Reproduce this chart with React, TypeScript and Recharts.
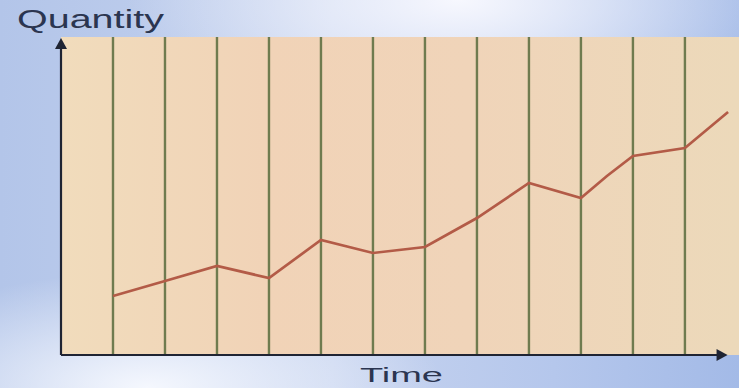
import { LineChart, Line, XAxis, YAxis, CartesianGrid, ReferenceLine, ReferenceDot } from 'recharts';

// time positions of the readings and the quantity measured at each
const periods = [1, 2, 3, 4, 5, 6, 7, 8, 9, 10, 10.5, 11, 12, 12.83];
const quantities = [59, 74, 89, 77, 115, 102, 108, 137, 172, 157, 179, 199, 207, 243];
const gridTicks = [1, 2, 3, 4, 5, 6, 7, 8, 9, 10, 11, 12];

const data = periods.map((t, i) => ({ t, q: quantities[i] }));

const AXIS = '#1f2433';
const GRID = '#6f7b4f';

const UpArrow = (props: any) => {
    const { cx, cy } = props;
    return <path d={`M${cx},${cy} L${cx - 6},${cy + 11} L${cx + 6},${cy + 11} Z`} fill={AXIS} />;
};

const RightArrow = (props: any) => {
    const { cx, cy } = props;
    return <path d={`M${cx},${cy} L${cx - 11},${cy - 6} L${cx - 11},${cy + 6} Z`} fill={AXIS} />;
};

export default function App() {
    return (
        <div
            style={{
                position: 'absolute',
                left: 0,
                top: 0,
                width: 739,
                height: 388,
                overflow: 'hidden',
                background: [
                    'radial-gradient(ellipse 45% 35% at 62% 0%, rgba(250,250,255,0.95) 0%, rgba(250,250,255,0) 100%)',
                    'radial-gradient(ellipse 40% 30% at 20% 100%, rgba(248,250,255,0.95) 0%, rgba(248,250,255,0) 100%)',
                    'linear-gradient(to right, #b3c5e9 0%, #c6d3ef 45%, #b5c7ec 75%, #a3bae7 100%)',
                ].join(', '),
            }}
        >
            <LineChart width={739} height={388} data={data} margin={{ top: 37, right: 0, bottom: 32, left: 61 }}>
                <defs>
                    <linearGradient id="plotFill" x1="0" y1="0" x2="1" y2="0">
                        <stop offset="0%" stopColor="#f1dcbc" />
                        <stop offset="30%" stopColor="#f1d3b7" />
                        <stop offset="60%" stopColor="#f0d4b9" />
                        <stop offset="100%" stopColor="#ecd9ba" />
                    </linearGradient>
                </defs>
                <CartesianGrid horizontal={false} vertical={false} fill="url(#plotFill)" fillOpacity={1} />
                <XAxis
                    dataKey="t"
                    type="number"
                    domain={[0, 13.04]}
                    ticks={gridTicks}
                    tick={false}
                    tickLine={false}
                    axisLine={false}
                    height={1}
                />
                <YAxis type="number" domain={[0, 318]} hide />
                {gridTicks.map((t) => (
                    <ReferenceLine key={t} x={t} stroke={GRID} strokeWidth={2.4} />
                ))}
                <ReferenceLine segment={[{ x: 0, y: 0 }, { x: 12.65, y: 0 }]} stroke={AXIS} strokeWidth={2.2} ifOverflow="visible" />
                <ReferenceLine segment={[{ x: 0, y: 0 }, { x: 0, y: 310 }]} stroke={AXIS} strokeWidth={2.2} ifOverflow="visible" />
                <ReferenceDot x={0} y={317} ifOverflow="visible" shape={UpArrow} />
                <ReferenceDot x={12.82} y={0} ifOverflow="visible" shape={RightArrow} />
                <Line
                    type="linear"
                    dataKey="q"
                    stroke="#b35b47"
                    strokeWidth={2.7}
                    dot={false}
                    isAnimationActive={false}
                />
                <text
                    x={17}
                    y={28}
                    fontFamily="Liberation Sans, Arial, sans-serif"
                    fontSize={25}
                    fill="#2b3550"
                    textLength={147}
                    lengthAdjust="spacingAndGlyphs"
                >
                    Quantity
                </text>
                <text
                    x={360}
                    y={382}
                    fontFamily="Liberation Sans, Arial, sans-serif"
                    fontSize={20}
                    fill="#2b3550"
                    textLength={83}
                    lengthAdjust="spacingAndGlyphs"
                >
                    Time
                </text>
            </LineChart>
        </div>
    );
}
